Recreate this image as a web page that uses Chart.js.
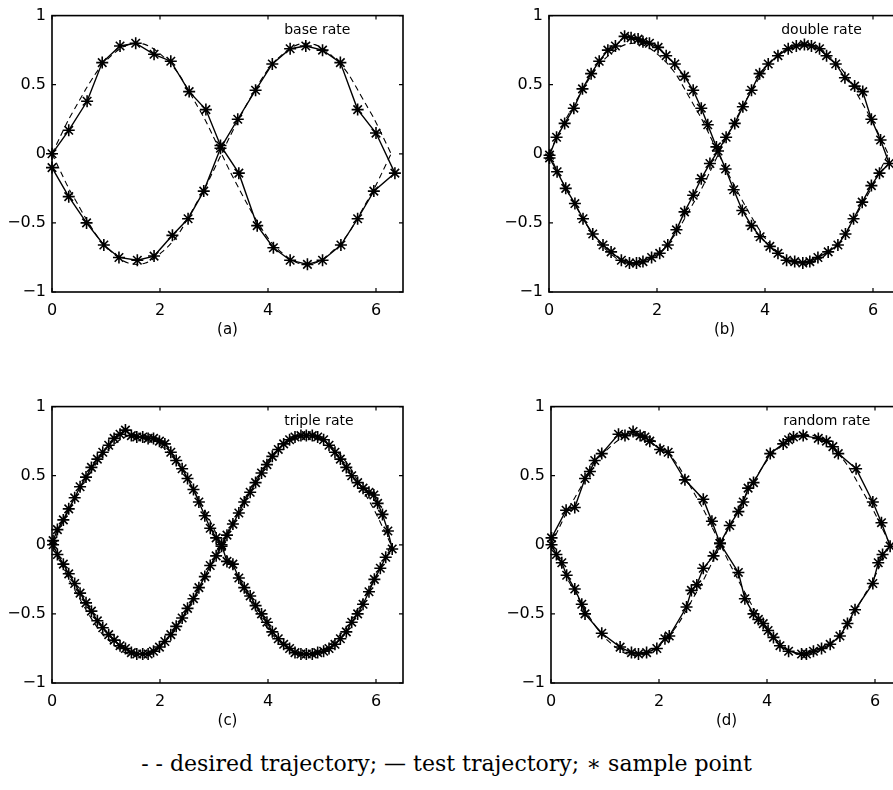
<!DOCTYPE html>
<html>
<head>
<meta charset="utf-8">
<script src="https://cdn.jsdelivr.net/npm/chart.js@4.4.1/dist/chart.umd.min.js"></script>
<style>
  html, body { margin: 0; padding: 0; background: #fff; overflow: hidden; }
  body { width: 893px; height: 790px; position: relative; }
  .panel { position: absolute; width: 421px; height: 342px; }
  #caption { position: absolute; left: 0; width: 893px; top: 751px; text-align: center;
             font-family: 'DejaVu Serif', serif; font-size: 22px; color: #000; white-space: nowrap; }
</style>
</head>
<body>
<div class="panel" style="left:0;top:0"><canvas id="chartA"></canvas></div>
<div class="panel" style="left:497px;top:0"><canvas id="chartB"></canvas></div>
<div class="panel" style="left:0;top:391px"><canvas id="chartC"></canvas></div>
<div class="panel" style="left:499px;top:391px"><canvas id="chartD"></canvas></div>
<div id="caption">- - desired trajectory; — test trajectory; ∗ sample point</div>
<script>
// axis ticks
const xTicks = [0, 2, 4, 6];
const xTickLabels = ['0', '2', '4', '6'];
const yTicks = [-1, -0.5, 0, 0.5, 1];
const yTickLabels = ['\u22121', '\u22120.5', '0', '0.5', '1'];

// desired trajectory (figure eight), shared by all panels
const desiredX = [0, 0.16, 0.31, 0.47, 0.63, 0.79, 0.94, 1.10, 1.26, 1.41, 1.57, 1.73, 1.88, 2.04, 2.20, 2.36, 2.51, 2.67, 2.83, 2.98,
  3.14, 3.30, 3.46, 3.61, 3.77, 3.93, 4.08, 4.24, 4.40, 4.55, 4.71, 4.87, 5.03, 5.18, 5.34, 5.50, 5.65, 5.81, 5.97, 6.12, 6.28];
const desiredUpper = [0, 0.13, 0.25, 0.36, 0.47, 0.57, 0.65, 0.71, 0.76, 0.79, 0.80, 0.79, 0.76, 0.71, 0.65, 0.57, 0.47, 0.36, 0.25, 0.13,
  0, -0.13, -0.25, -0.36, -0.47, -0.57, -0.65, -0.71, -0.76, -0.79, -0.80, -0.79, -0.76, -0.71, -0.65, -0.57, -0.47, -0.36, -0.25, -0.13, 0];
const desiredLower = [0, -0.13, -0.25, -0.36, -0.47, -0.57, -0.65, -0.71, -0.76, -0.79, -0.80, -0.79, -0.76, -0.71, -0.65, -0.57, -0.47, -0.36, -0.25, -0.13,
  0, 0.13, 0.25, 0.36, 0.47, 0.57, 0.65, 0.71, 0.76, 0.79, 0.80, 0.79, 0.76, 0.71, 0.65, 0.57, 0.47, 0.36, 0.25, 0.13, 0];

// (a) base rate
const baseX = [0, 0.31, 0.65, 0.93, 1.26, 1.55, 1.89, 2.20, 2.54, 2.85, 3.12, 3.46, 3.80, 4.10, 4.41, 4.73, 5.01, 5.35, 5.66, 5.96,
  6.35, 6.00, 5.66, 5.34, 5.01, 4.70, 4.41, 4.08, 3.77, 3.44, 3.12, 2.81, 2.52, 2.23, 1.89, 1.58, 1.24, 0.96, 0.64, 0.31, 0];
const baseY = [0, 0.17, 0.38, 0.66, 0.78, 0.80, 0.72, 0.67, 0.45, 0.32, 0.06, -0.14, -0.52, -0.68, -0.77, -0.80, -0.77, -0.66, -0.47, -0.27,
  -0.14, 0.15, 0.32, 0.66, 0.75, 0.78, 0.76, 0.65, 0.46, 0.25, 0.04, -0.27, -0.47, -0.59, -0.74, -0.77, -0.75, -0.66, -0.50, -0.31, -0.10];

// (b) double rate
const doubleX = [0.01, 0.14, 0.29, 0.46, 0.62, 0.78, 0.93, 1.09, 1.23, 1.40, 1.52, 1.65, 1.74, 1.86, 2.02, 2.17, 2.33, 2.51, 2.67, 2.82,
  2.94, 3.10, 3.27, 3.42, 3.58, 3.75, 3.91, 4.09, 4.24, 4.40, 4.55, 4.70, 4.83, 4.98, 5.17, 5.35, 5.49, 5.64, 5.80, 5.97,
  6.12, 6.30, 6.14, 5.97, 5.81, 5.66, 5.48, 5.31, 5.14, 5.01, 4.86, 4.73, 4.58, 4.43, 4.24, 4.06, 3.90, 3.75, 3.59, 3.44,
  3.28, 3.13, 2.98, 2.82, 2.67, 2.51, 2.36, 2.20, 2.05, 1.90, 1.74, 1.62, 1.49, 1.34, 1.15, 1.00, 0.81, 0.63, 0.48, 0.31, 0.15, 0.01];
const doubleY = [-0.01, 0.12, 0.22, 0.33, 0.47, 0.58, 0.67, 0.75, 0.78, 0.85, 0.84, 0.83, 0.81, 0.80, 0.77, 0.71, 0.65, 0.56, 0.46, 0.33,
  0.21, 0.05, -0.11, -0.26, -0.41, -0.52, -0.60, -0.67, -0.72, -0.77, -0.78, -0.79, -0.78, -0.75, -0.71, -0.66, -0.58, -0.47, -0.35, -0.23,
  -0.14, -0.07, 0.10, 0.25, 0.45, 0.49, 0.55, 0.65, 0.71, 0.76, 0.78, 0.79, 0.78, 0.76, 0.71, 0.65, 0.58, 0.46, 0.34, 0.22,
  0.12, 0.02, -0.07, -0.18, -0.30, -0.42, -0.55, -0.66, -0.72, -0.75, -0.78, -0.79, -0.79, -0.77, -0.71, -0.66, -0.58, -0.47, -0.36, -0.25, -0.13, -0.03];

// (c) triple rate
const tripleX = [0.02, 0.10, 0.21, 0.31, 0.42, 0.52, 0.63, 0.73, 0.84, 0.94, 1.05, 1.15, 1.26, 1.36, 1.47, 1.57, 1.68, 1.78, 1.88, 1.99,
  2.09, 2.20, 2.30, 2.41, 2.51, 2.62, 2.72, 2.83, 2.93, 3.04, 3.14,
  3.24, 3.35, 3.46, 3.56, 3.67, 3.77, 3.88, 3.98, 4.08, 4.19, 4.29, 4.40, 4.50, 4.61, 4.71, 4.82, 4.92, 5.03, 5.13, 5.24,
  5.34, 5.45, 5.55, 5.66, 5.76, 5.87, 5.97, 6.08, 6.18, 6.30,
  6.22, 6.12, 6.03, 5.96, 5.87, 5.76, 5.66, 5.55, 5.45, 5.34, 5.24, 5.13, 5.03, 4.92, 4.82, 4.71, 4.61, 4.50, 4.40, 4.29,
  4.19, 4.08, 3.98, 3.88, 3.77, 3.67, 3.56, 3.46, 3.35, 3.24,
  3.14, 3.04, 2.93, 2.83, 2.72, 2.62, 2.51, 2.41, 2.30, 2.20, 2.09, 1.99, 1.88, 1.78, 1.68, 1.57, 1.47, 1.36, 1.26, 1.15,
  1.05, 0.94, 0.84, 0.73, 0.63, 0.52, 0.42, 0.31, 0.21, 0.10, 0.02];
const tripleY = [0.03, 0.11, 0.18, 0.26, 0.34, 0.42, 0.49, 0.56, 0.62, 0.67, 0.72, 0.77, 0.80, 0.83, 0.79, 0.78, 0.78, 0.77, 0.77, 0.75,
  0.73, 0.67, 0.61, 0.55, 0.48, 0.40, 0.31, 0.21, 0.12, 0.05, 0.00,
  -0.12, -0.14, -0.24, -0.31, -0.37, -0.44, -0.50, -0.56, -0.63, -0.68, -0.72, -0.75, -0.78, -0.79, -0.79, -0.79, -0.78, -0.77, -0.75, -0.72,
  -0.68, -0.63, -0.56, -0.50, -0.43, -0.34, -0.25, -0.17, -0.09, -0.03,
  0.10, 0.22, 0.30, 0.36, 0.38, 0.41, 0.45, 0.50, 0.56, 0.62, 0.67, 0.72, 0.76, 0.78, 0.79, 0.79, 0.79, 0.78, 0.76, 0.73,
  0.69, 0.64, 0.58, 0.52, 0.45, 0.38, 0.31, 0.23, 0.15, 0.07,
  -0.01, -0.08, -0.15, -0.23, -0.31, -0.39, -0.46, -0.53, -0.59, -0.65, -0.70, -0.74, -0.77, -0.79, -0.79, -0.79, -0.78, -0.75, -0.73, -0.69,
  -0.65, -0.60, -0.55, -0.48, -0.42, -0.35, -0.28, -0.21, -0.14, -0.07, 0.00];

// (d) random rate
const randomX = [0.01, 0.28, 0.44, 0.63, 0.72, 0.81, 0.94, 1.25, 1.37, 1.52, 1.65, 1.74, 1.83, 2.02, 2.17, 2.48, 2.82, 2.98, 3.13, 3.47,
  3.59, 3.75, 3.84, 3.93, 4.02, 4.12, 4.24, 4.40, 4.64, 4.73, 4.86, 5.01, 5.17, 5.35, 5.49, 5.63, 5.96, 6.06, 6.14, 6.28,
  6.12, 5.96, 5.65, 5.32, 5.22, 5.10, 4.95, 4.67, 4.49, 4.40, 4.30, 4.06, 3.75, 3.65, 3.56, 3.47, 3.31, 3.13, 3.01, 2.82,
  2.70, 2.60, 2.51, 2.19, 2.11, 1.96, 1.77, 1.62, 1.49, 1.28, 0.94, 0.63, 0.57, 0.44, 0.29, 0.20, 0.10, 0.01];
const randomY = [0.05, 0.25, 0.27, 0.48, 0.53, 0.61, 0.66, 0.80, 0.79, 0.82, 0.79, 0.78, 0.75, 0.69, 0.67, 0.47, 0.33, 0.17, 0.01, -0.20,
  -0.39, -0.50, -0.54, -0.57, -0.62, -0.67, -0.73, -0.77, -0.79, -0.79, -0.77, -0.75, -0.72, -0.66, -0.57, -0.47, -0.28, -0.13, -0.07, -0.01,
  0.16, 0.31, 0.55, 0.66, 0.71, 0.75, 0.77, 0.79, 0.78, 0.76, 0.73, 0.66, 0.45, 0.41, 0.31, 0.24, 0.14, 0.01, -0.08, -0.17,
  -0.29, -0.33, -0.45, -0.66, -0.68, -0.75, -0.78, -0.79, -0.78, -0.74, -0.64, -0.50, -0.43, -0.32, -0.22, -0.13, -0.07, 0.00];

// where the rate label sits, in data units
const labelX = 4.3;
const labelY = 0.89;

const toPoints = (xs, ys) => xs.map((x, i) => ({ x: x, y: ys[i] }));

// matlab-like box with inward ticks and the rate label
function framePlugin(label) {
  return {
    id: 'frame',
    beforeDatasetsDraw(chart) {
      const ctx = chart.ctx;
      const a = chart.chartArea;
      const sx = chart.scales.x, sy = chart.scales.y;
      ctx.save();
      ctx.strokeStyle = '#000';
      ctx.lineWidth = 1.6;
      ctx.strokeRect(a.left, a.top, a.right - a.left, a.bottom - a.top);
      ctx.lineWidth = 1.2;
      ctx.beginPath();
      sx.ticks.forEach(t => {
        const p = sx.getPixelForValue(t.value);
        ctx.moveTo(p, a.bottom); ctx.lineTo(p, a.bottom - 4);
        ctx.moveTo(p, a.top); ctx.lineTo(p, a.top + 4);
      });
      sy.ticks.forEach(t => {
        const p = sy.getPixelForValue(t.value);
        ctx.moveTo(a.left, p); ctx.lineTo(a.left + 4, p);
        ctx.moveTo(a.right, p); ctx.lineTo(a.right - 4, p);
      });
      ctx.stroke();
      ctx.fillStyle = '#000';
      ctx.font = '14px "DejaVu Sans"';
      ctx.textAlign = 'left';
      ctx.textBaseline = 'middle';
      ctx.fillText(label, sx.getPixelForValue(labelX), sy.getPixelForValue(labelY));
      ctx.restore();
    }
  };
}

function makePanel(id, xs, ys, label, caption) {
  new Chart(document.getElementById(id), {
    type: 'scatter',
    data: {
      datasets: [
        { data: toPoints(desiredX, desiredUpper), showLine: true, borderColor: '#000', borderWidth: 1.1,
          borderDash: [6, 4], pointRadius: 0, tension: 0.3 },
        { data: toPoints(desiredX, desiredLower), showLine: true, borderColor: '#000', borderWidth: 1.1,
          borderDash: [6, 4], pointRadius: 0, tension: 0.3 },
        { data: toPoints(xs, ys), showLine: true, borderColor: '#000', borderWidth: 1.4, tension: 0,
          pointStyle: 'star', pointRadius: 6, pointBorderColor: '#000', pointBorderWidth: 1.6, clip: false }
      ]
    },
    options: {
      responsive: true,
      maintainAspectRatio: false,
      animation: false,
      events: [],
      layout: { padding: { left: 0, top: 13, right: 18, bottom: 0 } },
      plugins: { legend: { display: false }, tooltip: { enabled: false } },
      scales: {
        x: {
          type: 'linear', min: 0, max: 6.5,
          afterBuildTicks: s => { s.ticks = xTicks.map(v => ({ value: v })); },
          afterFit: s => { s.height = 50; },
          grid: { display: false, drawTicks: false },
          border: { display: false },
          ticks: { padding: 9, color: '#000', font: { family: 'DejaVu Sans', size: 16 },
                   callback: v => xTickLabels[xTicks.indexOf(v)] },
          title: { display: true, text: caption, color: '#000', font: { family: 'DejaVu Sans', size: 15 },
                   padding: { top: 2, bottom: 3 } }
        },
        y: {
          type: 'linear', min: -1, max: 1,
          afterBuildTicks: s => { s.ticks = yTicks.map(v => ({ value: v })); },
          afterFit: s => { s.width = 52; },
          grid: { display: false, drawTicks: false },
          border: { display: false },
          ticks: { padding: 6, color: '#000', font: { family: 'DejaVu Sans', size: 16 },
                   callback: v => yTickLabels[yTicks.indexOf(v)] }
        }
      }
    },
    plugins: [framePlugin(label)]
  });
}

makePanel('chartA', baseX, baseY, 'base rate', '(a)');
makePanel('chartB', doubleX, doubleY, 'double rate', '(b)');
makePanel('chartC', tripleX, tripleY, 'triple rate', '(c)');
makePanel('chartD', randomX, randomY, 'random rate', '(d)');
</script>
</body>
</html>
